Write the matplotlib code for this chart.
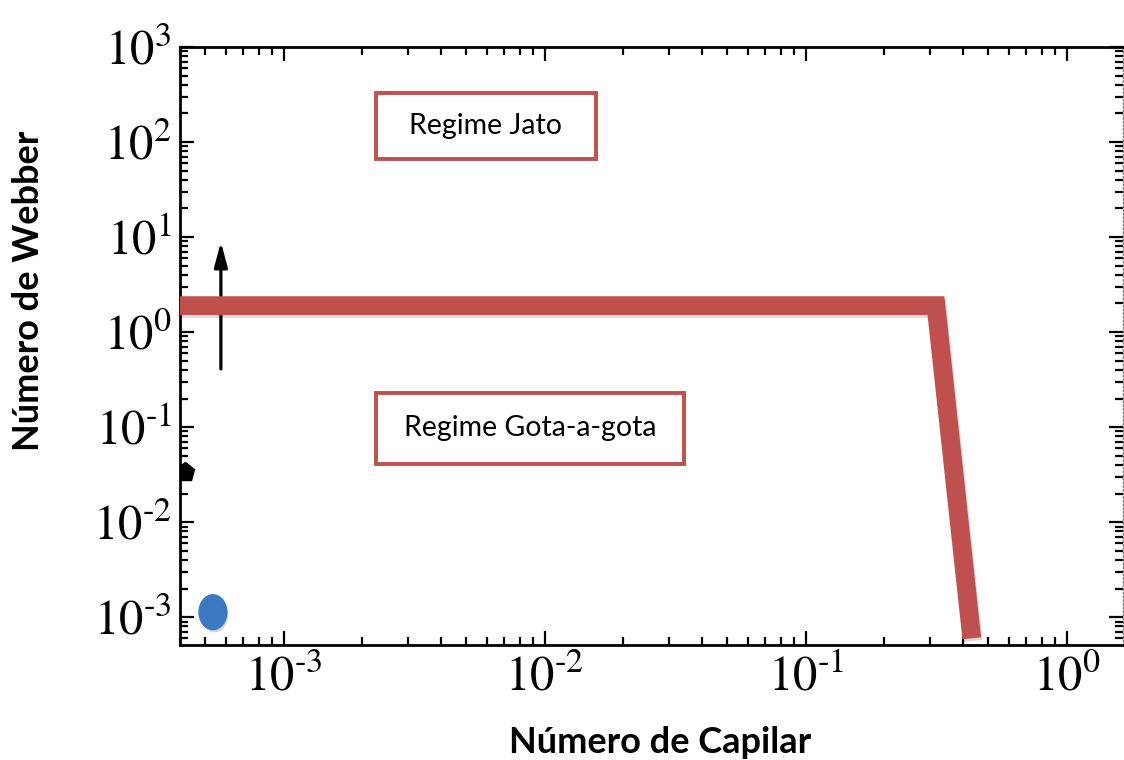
import numpy as np
import matplotlib
matplotlib.use("Agg")
import matplotlib.pyplot as plt
import matplotlib.patheffects as pe
from matplotlib.patches import Rectangle
from matplotlib.path import Path
from matplotlib.transforms import Affine2D
from matplotlib.ticker import LogLocator, FuncFormatter

plt.rcParams['mathtext.fontset'] = 'stix'
plt.rcParams['font.family'] = ['STIXGeneral', 'DejaVu Serif']
plt.rcParams['axes.unicode_minus'] = False

# limites dos eixos (escala log)
x_lim = [4.0e-4, 1.64]
y_lim = [5.1e-4, 1.0e3]

# fronteira entre regimes (linha vermelha)
fronteira_ca = [4.0e-4, 0.315, 0.432]
fronteira_we = [1.9, 1.9, 6.0e-4]

# ponto experimental (azul) e marcador preto
ponto_ca = [5.35e-4]
ponto_we = [1.13e-3]
pent_ca = [4.2e-4]
pent_we = [0.034]

# seta
seta_ca = 5.74e-4
seta_we = [0.41, 8.9]

# rótulos dos regimes
regimes = ["Regime Jato", "Regime Gota-a-gota"]

vermelho = '#C0504D'


def rotulo_pot(v, pos):
    e = int(round(np.log10(v)))
    if e < 0:
        return r'$10^{\text{-}%d}$' % (-e)
    return r'$10^{%d}$' % e


fig = plt.figure(figsize=(11.24, 7.6), dpi=100)
ax = fig.add_axes([0.1601, 0.1513, 0.8390, 0.7869])
ax.set_xscale('log')
ax.set_yscale('log')
ax.set_xlim(x_lim)
ax.set_ylim(y_lim)

# fronteira
ax.plot(fronteira_ca, fronteira_we, color=vermelho, lw=13.5,
        solid_capstyle='butt', solid_joinstyle='miter', clip_on=False, zorder=4,
        path_effects=[pe.SimpleLineShadow(offset=(1, -2), alpha=0.15),
                      pe.Normal()])

# seta
ax.annotate('', xy=(seta_ca, seta_we[1]), xytext=(seta_ca, seta_we[0]),
            arrowprops=dict(arrowstyle='-|>,head_length=1.5,head_width=0.4',
                            color='black', lw=2.3, shrinkA=0, shrinkB=0),
            zorder=3)

# ponto azul (elíptico)
elipse = Path.unit_circle().transformed(Affine2D().scale(0.8, 1.0))
ax.plot(ponto_ca, ponto_we, marker=elipse, ms=25, color='#3B78C3',
        mec='#3B78C3', ls='none', zorder=5,
        path_effects=[pe.SimplePatchShadow(offset=(1, -2), alpha=0.2),
                      pe.Normal()])

# marcador preto no eixo
ax.plot(pent_ca, pent_we, marker='p', ms=14, color='black', ls='none', zorder=5)

# caixas dos regimes
caixas = [(0.2078, 0.8127, 0.2333, 0.1104), (0.2078, 0.3027, 0.3267, 0.1187)]
for (x0, y0, w, h), txt in zip(caixas, regimes):
    ax.add_patch(Rectangle((x0, y0), w, h, transform=ax.transAxes, fill=False,
                           edgecolor=vermelho, lw=2.8, zorder=6))
    ax.text(x0 + w / 2, y0 + h / 2, txt, transform=ax.transAxes, ha='center',
            va='center', fontsize=20.5, family='Lato', zorder=7)

# eixos e ticks
for s in ['left', 'top', 'bottom']:
    ax.spines[s].set_linewidth(2.0)
ax.spines['right'].set_linestyle(':')
ax.spines['right'].set_color('#777777')
ax.spines['right'].set_linewidth(1.0)

ax.tick_params(which='both', direction='in', top=True, right=True, width=1.6)
ax.tick_params(which='major', length=10, labelsize=35, pad=8)
ax.tick_params(which='minor', length=6)
ax.tick_params(axis='y', which='major', pad=6)
for eixo in [ax.xaxis, ax.yaxis]:
    eixo.set_major_locator(LogLocator(base=10, numticks=20))
    eixo.set_minor_locator(LogLocator(base=10, subs=np.arange(2, 10), numticks=20))
    eixo.set_major_formatter(FuncFormatter(rotulo_pot))

ax.set_xlabel('Número de Capilar', fontsize=26, fontweight='bold', family='Lato')
ax.set_ylabel('Número de Webber', fontsize=26, fontweight='bold', family='Lato')
ax.xaxis.set_label_coords(0.509, -0.136)
ax.yaxis.set_label_coords(-0.143, 0.592)

fig.savefig('out.png', dpi=100)
